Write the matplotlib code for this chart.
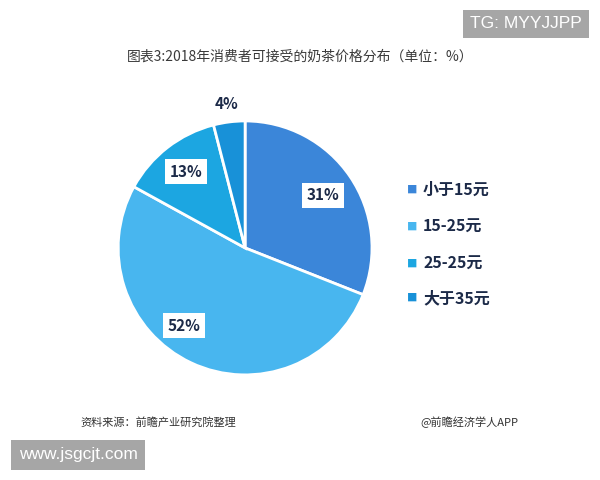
import numpy as np
import matplotlib
matplotlib.use("Agg")
import matplotlib.pyplot as plt

plt.rcParams['font.family'] = ['Noto Sans CJK SC', 'DejaVu Sans']

categories = ["小于15元", "15-25元", "25-25元", "大于35元"]
shares = [31, 52, 13, 4]
colors = ["#3b86d9", "#48b6ef", "#1ca6e1", "#1891d8"]

# label placement per slice: radius (fraction of pie radius), angle shift (deg), boxed
label_r = [0.74, 0.78, 0.76, 1.14]
label_shift = [0, -13, 0, 0]
label_box = [True, True, True, False]

fig = plt.figure(figsize=(6, 4.8), dpi=100)
fig.patch.set_facecolor("white")

ax = fig.add_axes([0.197, 0.219, 0.423, 0.529])
wedges, _ = ax.pie(shares, colors=colors, startangle=90, counterclock=False,
                   radius=1.0, wedgeprops=dict(edgecolor="white", linewidth=2))
ax.set_xlim(-1, 1)
ax.set_ylim(-1, 1)
ax.set_aspect("auto")
ax.axis("off")

for w, v, r, sh, box in zip(wedges, shares, label_r, label_shift, label_box):
    ang = np.deg2rad((w.theta1 + w.theta2) / 2 + sh)
    bbox = dict(boxstyle="square,pad=0.3", fc="white", ec="none") if box else None
    ax.text(r * np.cos(ang), r * np.sin(ang), f"{v}%", ha="center", va="center",
            fontsize=11, fontweight="bold", color="#1c2a48", bbox=bbox, clip_on=False)

# legend
leg_y = [190, 227, 264, 298]
for cat, col, y in zip(categories, colors, leg_y):
    fig.text(412 / 600, 1 - y / 480, "■", color=col, fontsize=7.5, ha="center", va="center")
    fig.text(423 / 600, 1 - y / 480, cat, color="#1c2a48", fontsize=11.5,
             fontweight="bold", ha="left", va="center")

fig.text(0.5, 1 - 57 / 480, "图表3:2018年消费者可接受的奶茶价格分布（单位：%）",
         ha="center", va="center", fontsize=10, color="#3a3a3a")

fig.text(80 / 600, 1 - 422 / 480, "资料来源：前瞻产业研究院整理", ha="left", va="center",
         fontsize=8, color="#333333", style="italic")
fig.text(518 / 600, 1 - 422 / 480, "@前瞻经济学人APP", ha="right", va="center",
         fontsize=8, color="#333333")

# overlay watermarks
fig.text(526 / 600, 1 - 24 / 480, "TG: MYYJJPP", ha="center", va="center", fontsize=12.5,
         color="white", family="Liberation Sans",
         bbox=dict(boxstyle="square,pad=0.4", fc="#a6a6a6", ec="none"))
fig.text(78 / 600, 1 - 455 / 480, "www.jsgcjt.com", ha="center", va="center", fontsize=12.5,
         color="white", family="Liberation Sans",
         bbox=dict(boxstyle="square,pad=0.45", fc="#a6a6a6", ec="none"))

fig.savefig("out.png", dpi=100)
